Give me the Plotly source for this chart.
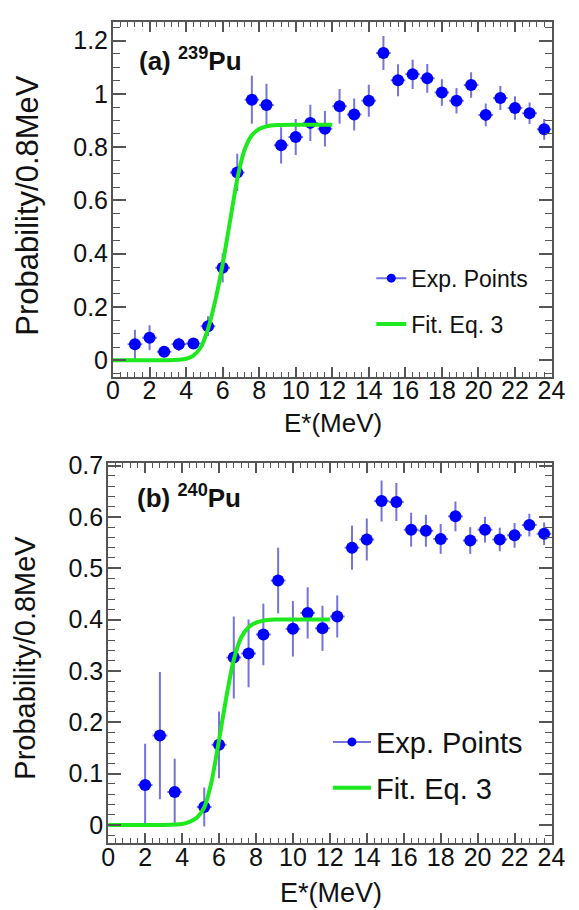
import plotly.graph_objects as go

# ---------------- data ----------------
# (a) 239Pu
energy_a = [1.2, 2.0, 2.8, 3.6, 4.4, 5.2, 6.0, 6.8, 7.6, 8.4, 9.2, 10.0, 10.8, 11.6,
            12.4, 13.2, 14.0, 14.8, 15.6, 16.4, 17.2, 18.0, 18.8, 19.6, 20.4, 21.2,
            22.0, 22.8, 23.6]
prob_a = [0.060, 0.085, 0.032, 0.060, 0.063, 0.128, 0.347, 0.705, 0.978, 0.958, 0.807,
          0.838, 0.891, 0.869, 0.953, 0.922, 0.974, 1.153, 1.051, 1.073, 1.058, 1.005,
          0.974, 1.033, 0.921, 0.984, 0.947, 0.927, 0.867]
err_a = [0.055, 0.047, 0.020, 0.025, 0.020, 0.037, 0.055, 0.070, 0.090, 0.080, 0.068,
         0.068, 0.068, 0.067, 0.065, 0.060, 0.060, 0.064, 0.060, 0.055, 0.054, 0.050,
         0.048, 0.048, 0.043, 0.045, 0.044, 0.040, 0.039]
fit_a_x = [0, 1, 2, 3, 3.6, 4.0, 4.4, 4.8, 5.2, 5.6, 6.0, 6.4, 6.8, 7.2, 7.6, 8.0, 8.4,
           9.0, 10, 11, 12]
fit_a_y = [0, 0, 0, 0, 0.002, 0.006, 0.018, 0.048, 0.118, 0.225, 0.36, 0.52, 0.68, 0.79,
           0.845, 0.868, 0.878, 0.883, 0.884, 0.884, 0.884]

# (b) 240Pu
energy_b = [2.0, 2.8, 3.6, 5.2, 6.0, 6.8, 7.6, 8.4, 9.2, 10.0, 10.8, 11.6, 12.4, 13.2,
            14.0, 14.8, 15.6, 16.4, 17.2, 18.0, 18.8, 19.6, 20.4, 21.2, 22.0, 22.8, 23.6]
prob_b = [0.078, 0.174, 0.064, 0.035, 0.156, 0.326, 0.334, 0.371, 0.476, 0.382, 0.413,
          0.383, 0.406, 0.540, 0.556, 0.631, 0.629, 0.575, 0.573, 0.557, 0.601, 0.554,
          0.575, 0.556, 0.564, 0.584, 0.567]
err_b = [0.080, 0.124, 0.065, 0.038, 0.065, 0.080, 0.066, 0.060, 0.064, 0.054, 0.050,
         0.044, 0.041, 0.043, 0.041, 0.040, 0.037, 0.033, 0.031, 0.029, 0.029, 0.026,
         0.025, 0.023, 0.024, 0.022, 0.022]
fit_b_x = [0, 1, 2, 3, 4.0, 4.4, 4.8, 5.2, 5.6, 6.0, 6.4, 6.8, 7.2, 7.6, 8.0, 8.4, 9.0,
           10, 11, 12]
fit_b_y = [0, 0, 0, 0, 0.002, 0.006, 0.014, 0.034, 0.085, 0.165, 0.25, 0.322, 0.365,
           0.385, 0.394, 0.398, 0.4, 0.4, 0.4, 0.4]

bin_half_width = 0.4
x_ticks = list(range(0, 25, 2))

# ---------------- style ----------------
W, H = 579, 910
FONT = "Liberation Sans, Arial, sans-serif"
BLUE = "#0000ff"
ERRC = "rgba(70,70,205,0.75)"
GREEN = "#1ee81e"
FRAME = "#555555"


def px_x(p):
    return p / W


def px_y(p):
    return 1 - p / H


fig = go.Figure()

for i, (ex, py, er, fx, fy) in enumerate([
        (energy_a, prob_a, err_a, fit_a_x, fit_a_y),
        (energy_b, prob_b, err_b, fit_b_x, fit_b_y)]):
    xa = "x" if i == 0 else "x2"
    ya = "y" if i == 0 else "y2"
    lg = "legend" if i == 0 else "legend2"
    fig.add_trace(go.Scatter(
        x=ex, y=py, mode="markers", xaxis=xa, yaxis=ya, showlegend=False,
        marker=dict(color=BLUE, size=12, line=dict(width=0)),
        error_y=dict(type="data", array=er, visible=True, color=ERRC, thickness=2, width=0),
        error_x=dict(type="constant", value=bin_half_width, visible=True, color=ERRC,
                     thickness=2, width=0),
    ))
    fig.add_trace(go.Scatter(
        x=fx, y=fy, mode="lines", xaxis=xa, yaxis=ya, showlegend=False,
        line=dict(color=GREEN, width=4, shape="spline", smoothing=0.6),
    ))
    # legend entries
    fig.add_trace(go.Scatter(
        x=[None], y=[None], mode="lines+markers", xaxis=xa, yaxis=ya, name="Exp. Points",
        legend=lg, legendgroup=f"e{i}",
        line=dict(color=ERRC, width=2), marker=dict(color=BLUE, size=9),
    ))
    fig.add_trace(go.Scatter(
        x=[None], y=[None], mode="lines", xaxis=xa, yaxis=ya, name="Fit. Eq. 3",
        legend=lg, legendgroup=f"f{i}",
        line=dict(color=GREEN, width=4),
    ))

axis_common = dict(
    showgrid=False, zeroline=False, showline=True, linecolor=FRAME, linewidth=2,
    mirror="allticks", ticks="inside", tickcolor=FRAME, tickwidth=1.5,
    tickfont=dict(family=FONT, size=25, color="#111111"),
)

xminor = dict(dtick=0.4, ticks="inside", ticklen=5, tickcolor=FRAME, tickwidth=1.2)

fig.update_layout(
    width=W, height=H,
    margin=dict(l=0, r=0, t=0, b=0),
    paper_bgcolor="white", plot_bgcolor="white",
    xaxis=dict(domain=[px_x(110), px_x(565)], range=[0, 24], anchor="y",
               tickvals=x_ticks, ticklen=10, ticklabelstandoff=-10, minor=xminor,
               **axis_common),
    yaxis=dict(domain=[px_y(370), px_y(10)], range=[-0.063, 1.27], anchor="x",
               dtick=0.2, ticklen=13, ticklabelstandoff=-2,
               minor=dict(dtick=0.05, ticks="inside", ticklen=7, tickcolor=FRAME, tickwidth=1.2),
               **axis_common),
    xaxis2=dict(domain=[px_x(105), px_x(565)], range=[0, 24], anchor="y2",
                tickvals=x_ticks, ticklen=10, ticklabelstandoff=-9, minor=xminor,
                **axis_common),
    yaxis2=dict(domain=[px_y(842), px_y(457)], range=[-0.035, 0.705], anchor="x2",
                dtick=0.1, ticklen=13, ticklabelstandoff=-2,
                minor=dict(dtick=0.02, ticks="inside", ticklen=7, tickcolor=FRAME, tickwidth=1.2),
                **axis_common),
    legend=dict(x=px_x(378), y=px_y(248), xanchor="left", yanchor="top",
                bgcolor="rgba(0,0,0,0)", font=dict(family=FONT, size=23, color="#111111"),
                tracegroupgap=13, itemwidth=30, traceorder="grouped"),
    legend2=dict(x=px_x(333), y=px_y(714), xanchor="left", yanchor="top",
                 bgcolor="rgba(0,0,0,0)", font=dict(family=FONT, size=29, color="#111111"),
                 tracegroupgap=5, itemwidth=38, traceorder="grouped"),
)

annotations = [
    dict(text="<b>(a) <sup>239</sup>Pu</b>", x=px_x(135), y=px_y(48), xanchor="left",
         yanchor="middle", font=dict(family=FONT, size=26, color="#111111")),
    dict(text="<b>(b) <sup>240</sup>Pu</b>", x=px_x(133), y=px_y(491), xanchor="left",
         yanchor="middle", font=dict(family=FONT, size=26, color="#111111")),
    dict(text="Probability/0.8MeV", textangle=-90, x=px_x(21), y=px_y(196),
         xanchor="center", yanchor="middle", font=dict(family=FONT, size=31, color="#111111")),
    dict(text="Probability/0.8MeV", textangle=-90, x=px_x(19), y=px_y(654),
         xanchor="center", yanchor="middle", font=dict(family=FONT, size=29, color="#111111")),
    dict(text="E*(MeV)", x=px_x(338), y=px_y(416), xanchor="center", yanchor="middle",
         font=dict(family=FONT, size=26, color="#111111")),
    dict(text="E*(MeV)", x=px_x(336), y=px_y(893), xanchor="center", yanchor="middle",
         font=dict(family=FONT, size=27, color="#111111")),
]
for a in annotations:
    a.update(xref="paper", yref="paper", showarrow=False)
fig.update_layout(annotations=annotations)

fig.write_html("out.html")
